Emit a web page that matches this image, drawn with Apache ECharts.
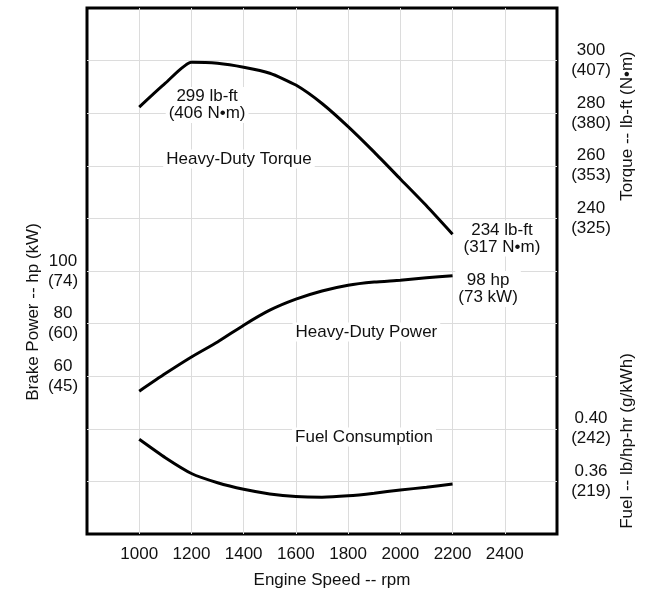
<!DOCTYPE html>
<html lang="en">
<head>
    <meta charset="UTF-8">
    <title>Engine performance</title>
    <script src="https://cdn.jsdelivr.net/npm/echarts@6/dist/echarts.min.js"></script>
    <style>
        html, body { margin: 0; padding: 0; background: #fff; }
        #container { width: 648px; height: 590px; }
    </style>
</head>
<body>
<div id="container"></div>
<script type="text/javascript">
    // engine speed, rpm
    let rpm = [1000, 1100, 1200, 1300, 1400, 1500, 1600, 1700, 1800, 1900, 2000, 2100, 2200];
    // torque, lb-ft
    let torque = [282.3, 291.4, 299.4, 299.0, 297.5, 295.2, 290.7, 283.7, 274.9, 265.2, 255.0, 244.8, 234.0];
    // brake power, hp
    let power = [54.3, 61.0, 67.3, 73.0, 79.4, 85.1, 89.3, 92.4, 94.6, 95.8, 96.5, 97.4, 98.2];
    // fuel consumption, lb/hp-hr
    let fuel = [0.392, 0.378, 0.366, 0.359, 0.354, 0.3505, 0.3485, 0.348, 0.349, 0.351, 0.3535, 0.3555, 0.358];

    // tick labels
    let xTicks = [1000, 1200, 1400, 1600, 1800, 2000, 2200, 2400];
    let powerTicks = [60, 80, 100];
    let powerTicksKw = [45, 60, 74];
    let torqueTicks = [240, 260, 280, 300];
    let torqueTicksNm = [325, 353, 380, 407];
    let fuelTicks = [0.36, 0.40];
    let fuelTicksG = [219, 242];

    let font = "'Liberation Sans', Arial, sans-serif";
    let txt = {color: '#111', fontFamily: font, fontSize: 17, lineHeight: 20};

    function pairs(vals) {
        return rpm.map(function (r, i) { return [r, vals[i]]; });
    }
    function pick(ticks, second, digits) {
        return function (v) {
            for (let i = 0; i < ticks.length; i++) {
                if (Math.abs(v - ticks[i]) < 1e-6) {
                    return (digits ? ticks[i].toFixed(digits) : ticks[i]) + '\n(' + second[i] + ')';
                }
            }
            return '';
        };
    }
    function note(coord, text) {
        return {
            coord: coord,
            symbolSize: 0,
            label: Object.assign({
                show: true, position: 'inside', formatter: text,
                backgroundColor: '#fff', padding: [1, 3]
            }, txt, {lineHeight: 17})
        };
    }
    function markLabels(list) {
        return {symbol: 'circle', symbolSize: 0, silent: true, data: list};
    }

    let dom = document.getElementById('container');
    let myChart = echarts.init(dom);
    let lineStyle = {color: '#000', width: 3};
    let gridLine = {show: true, showMinLine: false, showMaxLine: false, lineStyle: {color: '#dcdcdc', width: 1}};

    let option = {
        animation: false,
        backgroundColor: '#fff',
        grid: {
            left: 87, right: 91, top: 8, bottom: 56,
            show: true, borderColor: '#000', borderWidth: 3
        },
        xAxis: {
            type: 'value', min: 800, max: 2600, interval: 200,
            axisLine: {show: false}, axisTick: {show: false},
            splitLine: gridLine,
            axisLabel: Object.assign({
                margin: 10,
                formatter: function (v) { return xTicks.indexOf(v) >= 0 ? String(v) : ''; }
            }, txt)
        },
        yAxis: [
            {
                type: 'value', min: 0, max: 200, interval: 20, position: 'left',
                axisLine: {show: false}, axisTick: {show: false},
                splitLine: gridLine,
                axisLabel: Object.assign({align: 'center', margin: 24, formatter: pick(powerTicks, powerTicksKw)}, txt)
            },
            {
                type: 'value', min: 120, max: 320, interval: 20, position: 'right',
                axisLine: {show: false}, axisTick: {show: false}, splitLine: {show: false},
                axisLabel: Object.assign({align: 'center', margin: 34, formatter: pick(torqueTicks, torqueTicksNm)}, txt)
            },
            {
                type: 'value', min: 0.32, max: 0.72, interval: 0.04, position: 'right',
                axisLine: {show: false}, axisTick: {show: false}, splitLine: {show: false},
                axisLabel: Object.assign({align: 'center', margin: 34, formatter: pick(fuelTicks, fuelTicksG, 2)}, txt)
            }
        ],
        graphic: [
            {type: 'text', x: 33, y: 312, rotation: Math.PI / 2,
                style: {text: 'Brake Power -- hp (kW)', fill: '#111', font: '17px ' + font, align: 'center', verticalAlign: 'middle'}},
            {type: 'text', x: 627, y: 126, rotation: Math.PI / 2,
                style: {text: 'Torque -- lb-ft (N•m)', fill: '#111', font: '17px ' + font, align: 'center', verticalAlign: 'middle'}},
            {type: 'text', x: 627, y: 441, rotation: Math.PI / 2,
                style: {text: 'Fuel -- lb/hp-hr (g/kWh)', fill: '#111', font: '17px ' + font, align: 'center', verticalAlign: 'middle'}},
            {type: 'text', x: 332, y: 580,
                style: {text: 'Engine Speed -- rpm', fill: '#111', font: '17px ' + font, align: 'center', verticalAlign: 'middle'}}
        ],
        series: [
            {
                name: 'Heavy-Duty Torque', type: 'line', yAxisIndex: 1,
                data: pairs(torque), showSymbol: false, smooth: 0.2,
                lineStyle: lineStyle, z: 3,
                markPoint: markLabels([
                    note([1260, 283.1], '299 lb-ft\n(406 N•m)'),
                    note([1382, 262.6], 'Heavy-Duty Torque'),
                    note([2389, 232.4], '234 lb-ft\n(317 N•m)')
                ])
            },
            {
                name: 'Heavy-Duty Power', type: 'line', yAxisIndex: 0,
                data: pairs(power), showSymbol: false, smooth: 0.2,
                lineStyle: lineStyle, z: 3,
                markPoint: markLabels([
                    note([2336, 93.2], '98 hp\n(73 kW)'),
                    note([1870, 76.8], 'Heavy-Duty Power')
                ])
            },
            {
                name: 'Fuel Consumption', type: 'line', yAxisIndex: 2,
                data: pairs(fuel), showSymbol: false, smooth: 0.2,
                lineStyle: lineStyle, z: 3,
                markPoint: markLabels([
                    note([1861, 0.3938], 'Fuel Consumption')
                ])
            }
        ]
    };
    myChart.setOption(option);
</script>
</body>
</html>
